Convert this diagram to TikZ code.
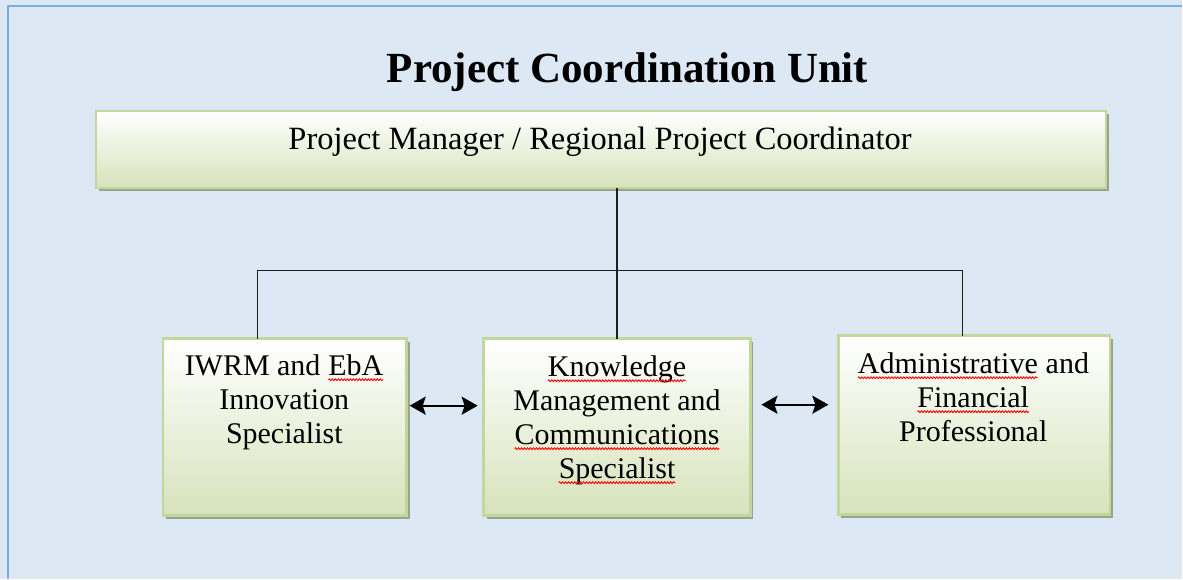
\documentclass[tikz,border=0pt]{standalone}
\usepackage{fontspec}
\setmainfont{Liberation Serif}
\usetikzlibrary{arrows.meta,shadows,decorations.pathmorphing}

\definecolor{pagebg}{HTML}{DDE8F5}
\definecolor{frameblue}{HTML}{7FAEDE}
\definecolor{boxedge}{HTML}{C3D69B}
\definecolor{boxlow}{HTML}{D6E3BB}
\definecolor{boxshadow}{HTML}{97A58C}
\definecolor{wireink}{HTML}{1E1E1E}

% red wavy underline under a single word
\newcommand\spellmark[1]{\tikz[baseline=(sw.base)]{%
  \node[inner sep=0pt,outer sep=0pt,anchor=base,draw=none,fill=none,
        minimum width=0pt,minimum height=0pt] (sw) {#1};
  \draw[red,line width=0.9pt,decorate,
        decoration={snake,amplitude=0.9pt,segment length=3pt}]
    ([yshift=-4.5pt]sw.base west) -- ([yshift=-4.5pt]sw.base east);}}

\tikzset{
  unitbox/.style={draw=boxedge,line width=2.5pt,top color=white,bottom color=boxlow,
    drop shadow={shadow xshift=3pt,shadow yshift=-3pt,fill=boxshadow,opacity=1},
    inner sep=0pt,outer sep=0pt},
  headtext/.style={font=\fontsize{32.5}{34.5}\selectfont,inner sep=0pt,anchor=base},
  boxtext/.style={font=\fontsize{30}{34}\selectfont,align=center,inner sep=0pt,anchor=north},
  wire/.style={draw=wireink,line width=1.3pt},
  peertip/.tip={Stealth[length=16pt,width=18pt,inset=3pt]},
  link/.style={draw=black,line width=2.2pt,peertip-peertip}
}

\begin{document}
\begin{tikzpicture}[x=1pt,y=-1pt]
  % page and frame
  \fill[pagebg] (0,0) rectangle (1183,579);
  \draw[frameblue,line width=1.8pt] (8,579) -- (8,6) -- (1183,6);
  \useasboundingbox (0,0) rectangle (1183,579);

  % title
  \node[font=\fontsize{43}{48}\selectfont\bfseries,anchor=base,inner sep=0pt] (title) at (628,83)
    {Project Coordination Unit};

  % boxes
  \node[unitbox,minimum width=1011pt,minimum height=77pt] (top) at (601.5,149.5) {};
  \node[unitbox,minimum width=244pt,minimum height=177pt] (b1) at (285,427.5) {};
  \node[unitbox,minimum width=267pt,minimum height=177pt] (b2) at (617.5,427.5) {};
  \node[unitbox,minimum width=272pt,minimum height=179pt] (b3) at (975,425.5) {};

  % box captions
  \node[headtext] (toptext) at (600.5,150)
    {Project Manager / Regional Project Coordinator};
  \node[boxtext] (b1text) at (284.5,354.5)
    {IWRM and \spellmark{EbA}\\Innovation\\Specialist};
  \node[boxtext] (b2text) at (617.5,355.5)
    {\spellmark{Knowledge}\\Management and\\\spellmark{Communications}\\\spellmark{Specialist}};
  \node[boxtext] (b3text) at (974,352.5)
    {\spellmark{Administrative} and\\\spellmark{Financial}\\Professional};

  % reporting lines
  \coordinate (busL) at (258,271);
  \coordinate (busR) at (963,271);
  \draw[wire] (b2.north |- top.south) -- (b2.north);
  \draw[wire] (b1.north -| busL) -- (busL) -- (busR) -- (b3.north -| busR);

  % peer links
  \draw[link,shorten <=3pt,shorten >=6pt] ([yshift=21.5pt]b1.east) -- ([yshift=21.5pt]b2.west);
  \draw[link,shorten <=11pt,shorten >=10pt] ([yshift=22.5pt]b2.east) -- ([yshift=20.5pt]b3.west);
\end{tikzpicture}
\end{document}
